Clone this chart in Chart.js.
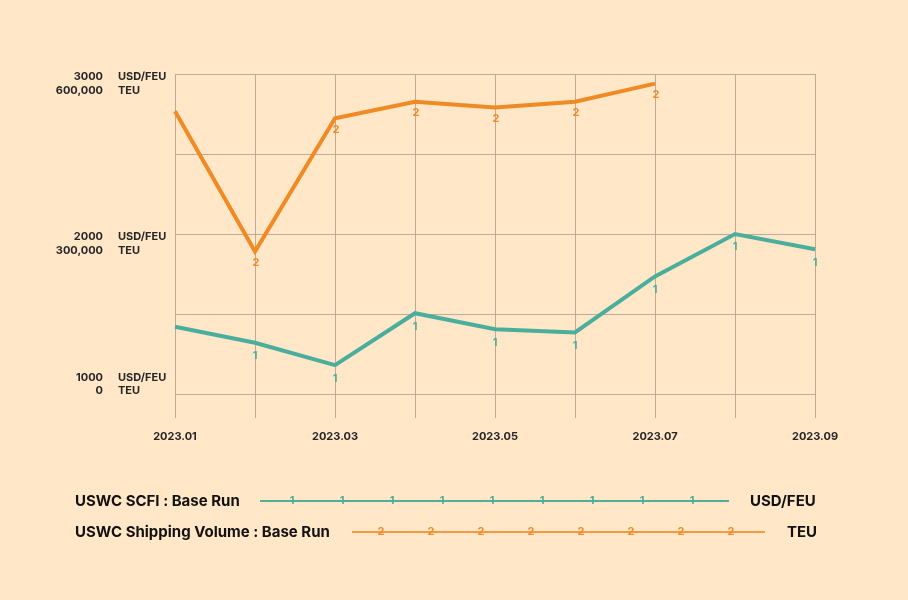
<!DOCTYPE html>
<html>
<head>
<meta charset="utf-8">
<script src="https://cdn.jsdelivr.net/npm/chart.js@4.4.1/dist/chart.umd.min.js"></script>
<style>
  html, body { margin: 0; padding: 0; background: #FFE7C8; }
  #wrap { width: 908px; height: 600px; }
</style>
</head>
<body>
<div id="wrap"><canvas id="line-chart" width="908" height="600"></canvas></div>
<script>
const months = ["2023.01", "2023.02", "2023.03", "2023.04", "2023.05", "2023.06", "2023.07", "2023.08", "2023.09"];
const scfi = [1420, 1320, 1180, 1505, 1405, 1385, 1735, 2000, 1905];
const volume = [530000, 267000, 517000, 548000, 537000, 548000, 582000, null, null];
const scfiTicks = [1000, 2000, 3000];
const volumeTicks = ["0", "300,000", "600,000"];
const seriesNames = ["USWC SCFI : Base Run", "USWC Shipping Volume : Base Run"];
const units = ["USD/FEU", "TEU"];

const TEAL = "#4BAE9C";
const ORANGE = "#F08A24";
const GRID = "#BDAA98";
const INK = "#262626";

// "1" / "2" tags under each point, like the original run plot
const pointTags = {
  id: "pointTags",
  afterDatasetsDraw(chart) {
    const ctx = chart.ctx;
    chart.data.datasets.forEach((ds, i) => {
      const meta = chart.getDatasetMeta(i);
      ctx.save();
      ctx.fillStyle = ds.borderColor;
      ctx.font = "700 11px Inter";
      ctx.textAlign = "center";
      ctx.textBaseline = "middle";
      meta.data.forEach((pt, j) => {
        if (j === 0 || ds.data[j] == null) return;
        ctx.fillText(String(i + 1), pt.x + (i === 1 ? 1 : 0), pt.y + (i === 0 ? 13 : 11));
      });
      ctx.restore();
    });
  }
};

// stacked left axis labels (two scales share the grid)
const axisLabels = {
  id: "axisLabels",
  afterDraw(chart) {
    const ctx = chart.ctx;
    const y = chart.scales.y;
    ctx.save();
    ctx.font = "700 11px Inter";
    ctx.fillStyle = INK;
    ctx.textBaseline = "middle";
    scfiTicks.forEach((v, k) => {
      const py = y.getPixelForValue(v);
      const y1 = k === 0 ? py - 16 : py + 3;
      const y2 = k === 0 ? py - 3 : py + 17;
      ctx.textAlign = "right";
      ctx.fillText(String(v), 103, y1);
      ctx.fillText(volumeTicks[k], 103, y2);
      ctx.textAlign = "left";
      ctx.fillText(units[0], 118, y1);
      ctx.fillText(units[1], 118, y2);
    });
    ctx.restore();
  }
};

// legend rows at the bottom
const runLegend = {
  id: "runLegend",
  afterDraw(chart) {
    const ctx = chart.ctx;
    const rows = [
      { y: 501, x0: 260, x1: 729, first: 292, count: 9, unitX: 750, color: TEAL, line: "#52AE9B" },
      { y: 532, x0: 352, x1: 765, first: 381, count: 8, unitX: 787, color: ORANGE, line: "#F19A45" }
    ];
    ctx.save();
    rows.forEach((r, i) => {
      ctx.font = "700 15px Inter";
      ctx.fillStyle = "#111";
      ctx.textAlign = "left";
      ctx.textBaseline = "middle";
      ctx.fillText(seriesNames[i], 75, r.y);
      ctx.fillText(units[i], r.unitX, r.y);
      ctx.strokeStyle = r.line;
      ctx.lineWidth = 2;
      ctx.beginPath();
      ctx.moveTo(r.x0, r.y);
      ctx.lineTo(r.x1, r.y);
      ctx.stroke();
      ctx.font = "700 11px Inter";
      ctx.fillStyle = r.color;
      ctx.textAlign = "center";
      for (let k = 0; k < r.count; k++) {
        ctx.fillText(String(i + 1), r.first + 50 * k, r.y);
      }
    });
    ctx.restore();
  }
};

const config = {
  type: "line",
  data: {
    labels: months,
    datasets: [
      {
        label: seriesNames[0],
        data: scfi,
        borderColor: TEAL,
        borderWidth: 4,
        pointRadius: 0,
        tension: 0,
        yAxisID: "y"
      },
      {
        label: seriesNames[1],
        data: volume,
        borderColor: ORANGE,
        borderWidth: 4,
        pointRadius: 0,
        tension: 0,
        yAxisID: "y2"
      }
    ]
  },
  options: {
    responsive: false,
    animation: false,
    layout: { padding: { left: 175, top: 74, right: 93, bottom: 150 } },
    plugins: {
      legend: { display: false },
      tooltip: { enabled: false },
      title: { display: false }
    },
    scales: {
      x: {
        offset: false,
        grid: { color: GRID, lineWidth: 1, tickLength: 24, drawTicks: true },
        border: { color: GRID },
        ticks: {
          autoSkip: false,
          maxRotation: 0,
          padding: 12,
          color: INK,
          font: { family: "Inter", size: 11, weight: "700" },
          callback: (v, i) => (i % 2 === 0 ? months[i] : "")
        },
        afterFit: s => { s.height = 56; }
      },
      y: {
        position: "left",
        min: 1000,
        max: 3000,
        ticks: { stepSize: 500, display: false },
        grid: { color: GRID, lineWidth: 1, drawTicks: false },
        border: { color: GRID },
        afterFit: s => { s.width = 0; }
      },
      y2: {
        position: "right",
        display: false,
        min: 0,
        max: 600000
      }
    }
  },
  plugins: [pointTags, axisLabels, runLegend]
};

const ctx = document.getElementById("line-chart").getContext("2d");
const runChart = new Chart(ctx, config);
</script>
</body>
</html>
